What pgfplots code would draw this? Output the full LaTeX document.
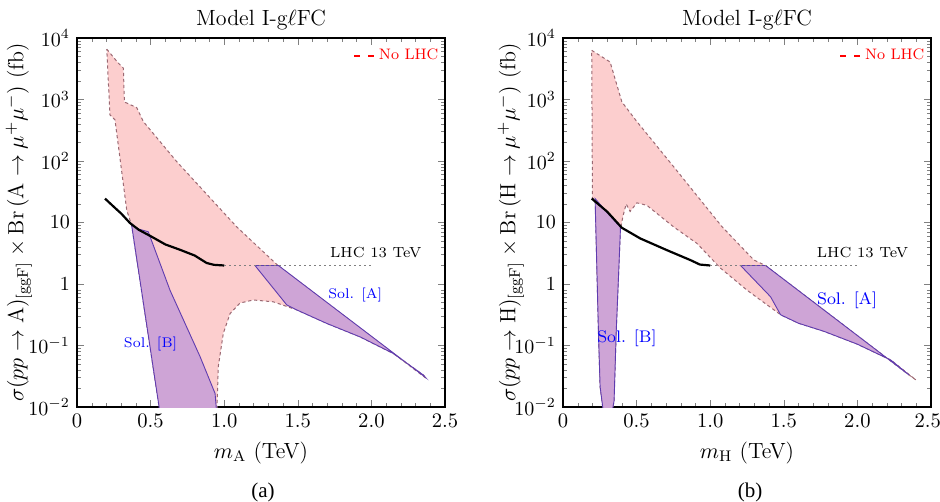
\documentclass[border=0pt]{standalone}
\usepackage{pgfplots}
\pgfplotsset{compat=1.18}
\usepackage{fontspec}
\newfontfamily\capfont{Liberation Serif}
\definecolor{pinkfill}{RGB}{252,206,206}
\definecolor{pinkedge}{RGB}{155,105,115}
\definecolor{solfill}{RGB}{206,164,214}
\definecolor{soledge}{RGB}{95,60,175}
\pgfplotsset{
  myax/.style={
    width=184pt, height=184.5pt, scale only axis,
    xmin=0, xmax=2.5, ymin=1e-2, ymax=1e4,
    xtick={0,0.5,1,1.5,2,2.5},
    minor x tick num=4,
    ytick={1e-2,1e-1,1,10,100,1000,10000},
    yticklabels={$10^{-2}$,$10^{-1}$,$1$,$10$,$10^{2}$,$10^{3}$,$10^{4}$},
    minor ytick={0.02,0.03,...,0.09,0.2,0.3,...,0.9,2,3,...,9,20,30,...,90,200,300,...,900,2000,3000,...,9000},
    tick align=inside, tick pos=both,
    major tick length=3.5pt, minor tick length=1.8pt,
    tick label style={font=\fontsize{10.3}{12}\selectfont},
    label style={font=\fontsize{11}{13}\selectfont},
    title style={font=\fontsize{11}{13}\selectfont, yshift=-5.5pt},
    title={Model I-g$\ell$FC},
    legend style={draw=none, fill=none, inner sep=0pt, at={(0.994,0.951)}, anchor=east,
      font=\fontsize{7.6}{9}\selectfont, text=red},
    legend cell align=left,
    axis line style={line width=0.6pt},
  },
  pinkreg/.style={fill=pinkfill, draw=pinkedge, line width=0.5pt, dash pattern=on 1.6pt off 1.4pt, forget plot},
  solreg/.style={fill=solfill, draw=soledge, line width=0.45pt, forget plot},
  lhc/.style={black, line width=1.1pt, forget plot},
  lhcdot/.style={gray, line width=0.9pt, dash pattern=on 0.9pt off 1.6pt, forget plot},
  nolhc/.style={legend image code/.code={\draw[red, line width=0.8pt] (0pt,0pt) -- (3pt,0pt) (7pt,0pt) -- (10pt,0pt);}},
}
\begin{document}
\begin{tikzpicture}
% ---------------- (a) ----------------
\begin{semilogyaxis}[myax, at={(0pt,0pt)}, anchor=south west,
  xticklabels={0,0.5,1.0,1.5,2.0,2.5},
  xlabel={$m_{\mathrm{A}}$ (TeV)},
  ylabel={$\sigma(pp\rightarrow \mathrm{A})_{[\mathrm{ggF}]}\times \mathrm{Br}\,(\mathrm{A}\rightarrow \mu^{+}\mu^{-})$ (fb)},
  ylabel style={at={(axis description cs:-0.158,0.5)}, anchor=center}]
\addlegendimage{nolhc}
\addlegendentry{No LHC}
\addplot[pinkreg] coordinates {
 (0.202,6600) (0.281,3900) (0.315,3240) (0.322,912) (0.349,851) (0.405,741)
 (0.451,437) (0.677,98) (1.085,8.5) (1.36,2.05) (2.372,0.0292)
 (2.353,0.0331) (2.149,0.0741) (1.923,0.138) (1.696,0.229) (1.492,0.38)
 (1.334,0.513) (1.198,0.55) (1.107,0.49) (1.04,0.331) (0.994,0.158)
 (0.96,0.0457) (0.95,0.008) (0.564,0.008) (0.371,9.1) (0.338,15.8)
 (0.258,468) (0.224,562) } -- cycle;
\addplot[solreg] coordinates {
 (1.209,2.0) (1.368,2.0) (2.366,0.0305) (2.353,0.0331) (2.149,0.0741)
 (1.923,0.138) (1.696,0.229) (1.492,0.38) (1.425,0.457) } -- cycle;
\addplot[solreg] coordinates {
 (0.371,9.1) (0.42,7.8) (0.484,7.08) (0.632,0.79) (0.836,0.066)
 (0.938,0.0166) (0.949,0.008) (0.564,0.008) } -- cycle;
\addplot[lhc] coordinates {
 (0.19,24.5) (0.25,18) (0.30,14) (0.36,9.8) (0.42,7.6) (0.5,6.0)
 (0.6,4.4) (0.7,3.6) (0.8,2.9) (0.88,2.2) (0.93,2.05) (1.0,2.0) };
\addplot[lhcdot] coordinates {(1.0,2.0) (2.0,2.0)};
\node[font=\fontsize{7.3}{9}\selectfont] at (axis cs:2.03,3.2) {LHC 13 TeV};
\node[font=\fontsize{7}{9}\selectfont, text=blue] at (axis cs:1.89,0.66) {Sol. [A]};
\node[font=\fontsize{7}{9}\selectfont, text=blue] at (axis cs:0.5,0.105) {Sol. [B]};
\end{semilogyaxis}
% ---------------- (b) ----------------
\begin{semilogyaxis}[myax, at={(243pt,0pt)}, anchor=south west,
  xticklabels={0,0.5,1.0,1.5,2.0,\makebox[0pt][r]{2.5\hspace{-5pt}}},
  xlabel={$m_{\mathrm{H}}$ (TeV)},
  ylabel={$\sigma(pp\rightarrow \mathrm{H})_{[\mathrm{ggF}]}\times \mathrm{Br}\,(\mathrm{H}\rightarrow \mu^{+}\mu^{-})$ (fb)},
  ylabel style={at={(axis description cs:-0.142,0.5)}, anchor=center}]
\addlegendimage{nolhc}
\addlegendentry{No LHC}
\addplot[pinkreg] coordinates {
 (0.195,6300) (0.32,4070) (0.40,912) (0.502,437) (0.751,81) (1.081,8.5)
 (1.297,2.45) (1.376,2.0) (2.352,0.033) (2.398,0.0275) (2.227,0.058)
 (2.0,0.105) (1.773,0.17) (1.6,0.23) (1.478,0.316) (1.433,0.38) (1.251,0.79)
 (1.069,1.82) (0.91,4.57) (0.751,8.5) (0.57,19) (0.502,20.9) (0.456,15.1)
 (0.429,20) (0.406,12.3) (0.39,7.6) (0.377,1.32) (0.361,0.158)
 (0.347,0.0126) (0.332,0.008) (0.275,0.008) (0.252,0.0214) (0.241,0.158)
 (0.218,24.5) (0.2,24.5) } -- cycle;
\addplot[solreg] coordinates {
 (1.206,2.0) (1.376,2.0) (2.352,0.033) (2.227,0.058) (2.0,0.105)
 (1.773,0.17) (1.6,0.23) (1.478,0.316) (1.41,0.62) } -- cycle;
\addplot[solreg] coordinates {
 (0.218,24.5) (0.3,14.5) (0.39,8.4) (0.39,7.6) (0.377,1.32) (0.361,0.158)
 (0.347,0.0126) (0.332,0.008) (0.275,0.008) (0.252,0.0214) (0.241,0.158) } -- cycle;
\addplot[lhc] coordinates {
 (0.195,24.5) (0.3,15) (0.4,8.2) (0.525,5.5) (0.706,3.55) (0.865,2.45)
 (0.93,2.07) (1.0,2.0) };
\addplot[lhcdot] coordinates {(1.0,2.0) (2.0,2.0)};
\node[font=\fontsize{7.3}{9}\selectfont] at (axis cs:2.035,3.2) {LHC 13 TeV};
\node[font=\fontsize{8.4}{10}\selectfont, text=blue] at (axis cs:1.93,0.55) {Sol. [A]};
\node[font=\fontsize{8.4}{10}\selectfont, text=blue] at (axis cs:0.434,0.132) {Sol. [B]};
\end{semilogyaxis}
\node[font=\capfont\fontsize{10.5}{12}\selectfont] at (93pt,-42.5pt) {(a)};
\node[font=\capfont\fontsize{10.5}{12}\selectfont] at (336.5pt,-42.5pt) {(b)};
\pgfresetboundingbox
\path (-38.5pt,-47.5pt) rectangle (431.5pt,203.5pt);
\end{tikzpicture}
\end{document}
